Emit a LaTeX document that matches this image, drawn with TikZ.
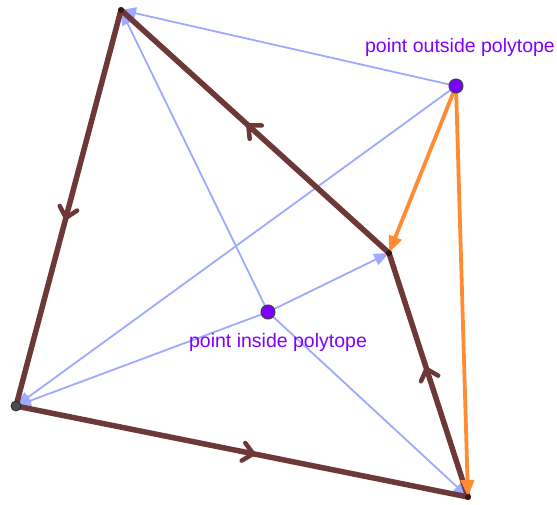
\documentclass[tikz,border=0pt]{standalone}
\usepackage{fontspec}
\setmainfont{Liberation Sans}
\usetikzlibrary{arrows.meta,decorations.markings}
\definecolor{brownedge}{RGB}{108,56,56}
\definecolor{bluevec}{RGB}{158,170,255}
\definecolor{orangevec}{RGB}{255,140,50}
\definecolor{ptpurple}{RGB}{124,0,255}
\definecolor{txtpurple}{RGB}{128,0,255}
\definecolor{vertdark}{RGB}{60,20,20}
\begin{document}
\begin{tikzpicture}[x=1pt,y=-1pt,
  edge/.style={draw=brownedge,line width=5.5pt,line cap=round,postaction={decorate},
    decoration={markings,mark=at position 0.525 with {\draw[brownedge,line width=4.5pt,line cap=round,line join=round] (-10,9)--(0,0)--(-10,-9);}}},
  bluevec/.style={draw=bluevec,line width=1.8pt,-{Triangle[length=15pt,width=12pt]}},
  orangevec/.style={draw=orangevec,line width=3.8pt,-{Triangle[length=17pt,width=13pt]}},
  bigpt/.style={circle,fill=ptpurple,draw=black!75,line width=1pt,inner sep=0pt,minimum size=14pt},
  leftpt/.style={circle,fill=black!70,draw=black!85,line width=0.8pt,inner sep=0pt,minimum size=10pt},
  vdot/.style={circle,fill=vertdark,inner sep=0pt,minimum size=6pt},
  lbl/.style={text=txtpurple,font=\fontsize{19.5}{23}\selectfont,inner sep=0pt}]
\useasboundingbox (0,0) rectangle (557,505);
\coordinate (A) at (121,10);
\coordinate (B) at (16,406);
\coordinate (C) at (468,497);
\coordinate (D) at (389,253);
\coordinate (P) at (456,86);
\coordinate (Q) at (268,312);
% blue vectors
\draw[bluevec] (P) -- (A);
\draw[bluevec] (P) -- (B);
\draw[bluevec] (Q) -- (A);
\draw[bluevec] (Q) -- (B);
\draw[bluevec] (Q) -- (C);
\draw[bluevec] (Q) -- (D);
% polytope edges
\draw[edge] (A) -- (B);
\draw[edge] (B) -- (C);
\draw[edge] (C) -- (D);
\draw[edge] (D) -- (A);
% orange vectors
\draw[orangevec] (P) -- (D);
\draw[orangevec] (P) -- (C);
% points
\node[vdot] (Adot) at (A) {};
\node[vdot] (Cdot) at (C) {};
\node[vdot] (Ddot) at (D) {};
\node[leftpt] (Bpt) at (B) {};
\node[bigpt] (Ppt) at (P) {};
\node[bigpt] (Qpt) at (Q) {};
% labels
\node[lbl] (Plbl) at (460,47) {point outside polytope};
\node[lbl] (Qlbl) at (278,342) {point inside polytope};
\end{tikzpicture}
\end{document}
